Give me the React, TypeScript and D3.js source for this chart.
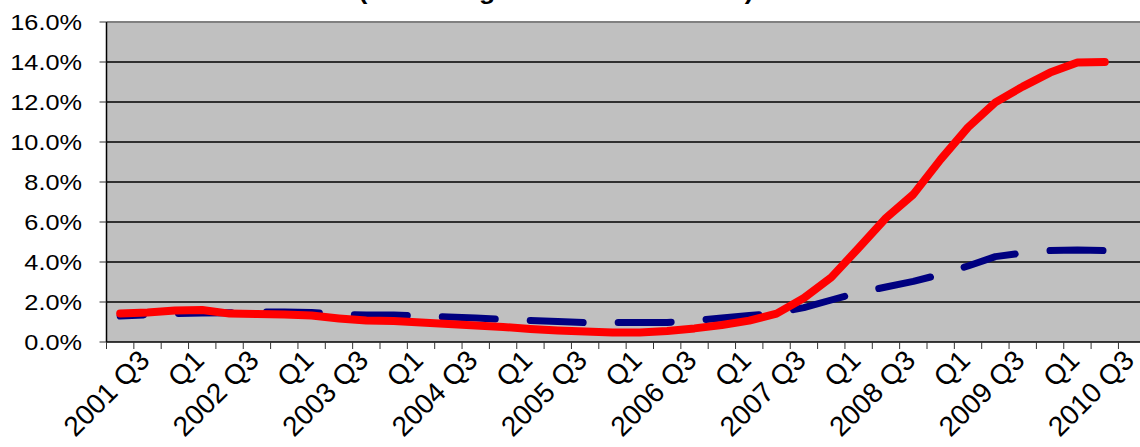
import React, { useRef, useEffect } from 'react';
import * as d3 from 'd3';

// quarterly categories (last one has no data, plot area runs past the image edge)
const quarters = [
  '2001 Q3', '2001 Q4',
  '2002 Q1', '2002 Q2', '2002 Q3', '2002 Q4',
  '2003 Q1', '2003 Q2', '2003 Q3', '2003 Q4',
  '2004 Q1', '2004 Q2', '2004 Q3', '2004 Q4',
  '2005 Q1', '2005 Q2', '2005 Q3', '2005 Q4',
  '2006 Q1', '2006 Q2', '2006 Q3', '2006 Q4',
  '2007 Q1', '2007 Q2', '2007 Q3', '2007 Q4',
  '2008 Q1', '2008 Q2', '2008 Q3', '2008 Q4',
  '2009 Q1', '2009 Q2', '2009 Q3', '2009 Q4',
  '2010 Q1', '2010 Q2', '2010 Q3', '2010 Q4',
];

// shown on every second category
const tickLabels = [
  '2001 Q3', 'Q1', '2002 Q3', 'Q1', '2003 Q3', 'Q1', '2004 Q3', 'Q1',
  '2005 Q3', 'Q1', '2006 Q3', 'Q1', '2007 Q3', 'Q1', '2008 Q3', 'Q1',
  '2009 Q3', 'Q1', '2010 Q3',
];

// red solid line (%)
const solidValues = [
  1.42, 1.48, 1.58, 1.6, 1.42, 1.4, 1.37, 1.32, 1.18, 1.07,
  1.05, 0.98, 0.9, 0.83, 0.75, 0.65, 0.57, 0.52, 0.48, 0.48,
  0.55, 0.68, 0.85, 1.07, 1.42, 2.2, 3.23, 4.7, 6.2, 7.38,
  9.13, 10.73, 11.98, 12.77, 13.47, 13.97, 14.0,
];

// navy dashed line (%)
const dashedValues = [
  1.3, 1.36, 1.42, 1.45, 1.46, 1.5, 1.5, 1.48, 1.38, 1.35,
  1.35, 1.3, 1.25, 1.2, 1.13, 1.08, 1.02, 0.97, 0.98, 0.98,
  0.98, 1.07, 1.2, 1.32, 1.45, 1.72, 2.1, 2.47, 2.75, 3.03,
  3.38, 3.8, 4.27, 4.45, 4.57, 4.6, 4.57,
];

const yTicks = [0, 2, 4, 6, 8, 10, 12, 14, 16];

const titleLine = '(Percentage of Loans Serviced)';

const width = 1140;
const height = 447;
const stretch = 1.15; // the picture is a bit wider than its fonts

const App: React.FC = () => {
  const svgRef = useRef<SVGSVGElement>(null);

  useEffect(() => {
    if (!svgRef.current) return;
    const svg = d3.select(svgRef.current);
    svg.selectAll('*').remove();

    const left = 106.5;
    const bandW = 27.35;

    const x = d3
      .scaleBand<string>()
      .domain(quarters)
      .range([left, left + quarters.length * bandW])
      .padding(0);

    const y = d3.scaleLinear().domain([0, 16]).range([342, 22]);

    const [x0, x1] = x.range();
    const cx = (q: string) => (x(q) as number) + x.bandwidth() / 2;

    // plot area
    svg
      .append('rect')
      .attr('x', x0)
      .attr('y', y(16))
      .attr('width', x1 - x0)
      .attr('height', y(0) - y(16))
      .attr('fill', '#c0c0c0');

    svg
      .append('line')
      .attr('x1', x0)
      .attr('x2', x1)
      .attr('y1', y(16))
      .attr('y2', y(16))
      .attr('stroke', '#808080')
      .attr('stroke-width', 2);

    // grid lines
    svg
      .append('g')
      .selectAll('line')
      .data(yTicks.filter((d) => d > 0 && d < 16))
      .enter()
      .append('line')
      .attr('x1', x0)
      .attr('x2', x1)
      .attr('y1', (d) => y(d))
      .attr('y2', (d) => y(d))
      .attr('stroke', '#000')
      .attr('stroke-width', 1.5);

    // axes lines
    svg
      .append('line')
      .attr('x1', x0)
      .attr('x2', x0)
      .attr('y1', y(16))
      .attr('y2', y(0))
      .attr('stroke', '#000')
      .attr('stroke-width', 1.5);

    svg
      .append('line')
      .attr('x1', x0)
      .attr('x2', x1)
      .attr('y1', y(0))
      .attr('y2', y(0))
      .attr('stroke', '#000')
      .attr('stroke-width', 1.5);

    // y ticks + labels
    const yAxis = svg.append('g');
    yAxis
      .selectAll('line')
      .data(yTicks)
      .enter()
      .append('line')
      .attr('x1', x0 - 7)
      .attr('x2', x0)
      .attr('y1', (d) => y(d))
      .attr('y2', (d) => y(d))
      .attr('stroke', '#333')
      .attr('stroke-width', 1);

    yAxis
      .selectAll('text')
      .data(yTicks)
      .enter()
      .append('text')
      .attr('transform', (d) => `translate(82,${y(d)}) scale(${stretch},1)`)
      .attr('dy', '0.35em')
      .attr('text-anchor', 'end')
      .style('font-size', '22px')
      .style('fill', '#000')
      .text((d) => `${d.toFixed(1)}%`);

    // x ticks between categories
    const edges = [...quarters.map((q) => x(q) as number), x1];
    svg
      .append('g')
      .selectAll('line')
      .data(edges)
      .enter()
      .append('line')
      .attr('x1', (d) => d)
      .attr('x2', (d) => d)
      .attr('y1', y(0))
      .attr('y2', y(0) + 7)
      .attr('stroke', '#333')
      .attr('stroke-width', 1);

    svg
      .append('g')
      .selectAll('text')
      .data(tickLabels)
      .enter()
      .append('text')
      .attr('transform', (_, i) => `translate(${cx(quarters[i * 2]) + 31},362) rotate(-45)`)
      .attr('text-anchor', 'end')
      .style('font-size', '28px')
      .style('fill', '#000')
      .text((d) => d);

    // series
    const line = d3
      .line<number>()
      .x((_, i) => cx(quarters[i]))
      .y((d) => y(d));

    svg
      .append('path')
      .datum(dashedValues)
      .attr('d', line)
      .attr('fill', 'none')
      .attr('stroke', '#000080')
      .attr('stroke-width', 7)
      .attr('stroke-dasharray', '53 35')
      .attr('stroke-dashoffset', 29.7)
      .attr('stroke-linecap', 'round')
      .attr('stroke-linejoin', 'round');

    svg
      .append('path')
      .datum(solidValues)
      .attr('d', line)
      .attr('fill', 'none')
      .attr('stroke', '#ff0000')
      .attr('stroke-width', 8)
      .attr('stroke-linecap', 'round')
      .attr('stroke-linejoin', 'round');

    // title, mostly above the visible area
    svg
      .append('text')
      .attr('transform', `translate(556,-1) scale(${stretch},1)`)
      .attr('text-anchor', 'middle')
      .style('font-size', '23px')
      .style('font-weight', 'bold')
      .text(titleLine);
  }, []);

  return (
    <svg
      ref={svgRef}
      width={width}
      height={height}
      style={{
        position: 'absolute',
        left: 0,
        top: 0,
        fontFamily: '"Liberation Sans", Arial, sans-serif',
        background: '#fff',
      }}
    />
  );
};

export default App;
